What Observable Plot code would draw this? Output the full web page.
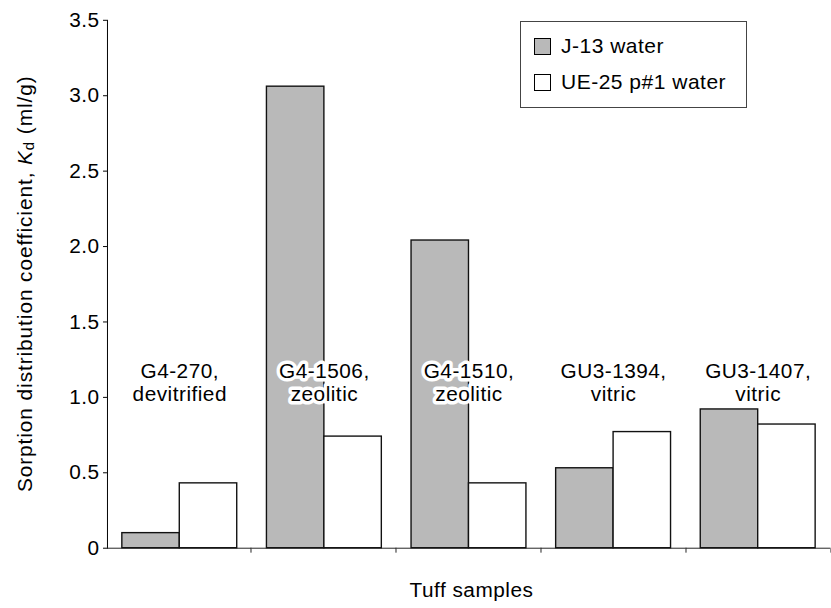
<!DOCTYPE html>
<html>
<head>
<meta charset="utf-8">
<script src="https://cdn.jsdelivr.net/npm/d3@7"></script>
<script src="https://cdn.jsdelivr.net/npm/@observablehq/plot@0.6"></script>
<style>
  html, body { margin: 0; padding: 0; background: #fff; overflow: hidden; }
  #wrap { position: relative; width: 831px; height: 608px; overflow: hidden; }
  .legend { position: absolute; left: 520px; top: 21px; width: 227px; height: 87px;
    border: 1px solid #444; background: #fff; font-family: "Liberation Sans", Arial, sans-serif;
    font-size: 21px; letter-spacing: 0.5px; color: #000; box-sizing: border-box; }
  .legend .item { position: absolute; left: 13px; display: flex; align-items: center; white-space: nowrap; }
  .legend .sw { width: 17px; height: 17px; border: 1.5px solid #000; margin-right: 10px; box-sizing: border-box; }
</style>
</head>
<body>
<div id="wrap"></div>
<script>
// ---- data ----
const samples = ["G4-270", "G4-1506", "G4-1510", "GU3-1394", "GU3-1407"];
const sampleTypes = ["devitrified", "zeolitic", "zeolitic", "vitric", "vitric"];
const series = ["J-13 water", "UE-25 p#1 water"];
const j13Values = [0.10, 3.06, 2.04, 0.53, 0.92];
const ue25Values = [0.43, 0.74, 0.43, 0.77, 0.82];
const yTicks = [0, 0.5, 1.0, 1.5, 2.0, 2.5, 3.0, 3.5];
const seriesColors = ["#b9b9b9", "#ffffff"];
const yLabelParts = ["Sorption distribution coefficient, ", "K", "d", " (ml/g)"];
const xLabel = "Tuff samples";

// ---- tables built from the arrays ----
const rows = [];
samples.forEach((s, i) => {
  rows.push({sample: s, series: series[0], value: j13Values[i]});
  rows.push({sample: s, series: series[1], value: ue25Values[i]});
});
const labels = samples.map((s, i) => ({sample: s, text: s + ",\n" + sampleTypes[i]}));
const labelLevel = 1.1;

const font = '"Liberation Sans", Arial, sans-serif';

const plot = Plot.plot({
  width: 839,
  height: 608,
  marginLeft: 107,
  marginRight: 0,
  marginTop: 20,
  marginBottom: 55,
  style: {fontFamily: font, fontSize: "21px", color: "#000", background: "#fff", overflow: "visible", letterSpacing: "0.5px"},
  fx: {domain: samples, padding: 0, axis: null, label: null},
  x: {domain: series, paddingInner: 0, paddingOuter: 0.24, axis: null, label: null},
  y: {domain: [0, 3.5], ticks: yTicks, tickFormat: d => d === 0 ? "0" : d.toFixed(1), tickSize: 4, tickPadding: 4, label: null, line: true},
  color: {domain: series, range: seriesColors},
  marks: [
    Plot.ruleY([0], {stroke: "#222", strokeWidth: 1}),
    Plot.barY(rows, {fx: "sample", x: "series", y: "value", fill: "series", stroke: "#111", strokeWidth: 1.4}),
    Plot.text(labels, {fx: "sample", y: () => labelLevel, text: "text", fill: "#000", stroke: "#fff", strokeWidth: 7, lineHeight: 1.1, fontSize: 21})
  ]
});

document.getElementById("wrap").appendChild(plot);

// ---- extra axis decorations drawn from the plot's scales ----
const svg = d3.select(plot.tagName.toLowerCase() === "svg" ? plot : plot.querySelector("svg"));
const fxd = plot.scale("fx");
const yd = plot.scale("y");
const fxBand = d3.scaleBand().domain(fxd.domain).range(fxd.range)
  .paddingInner(fxd.paddingInner || 0).paddingOuter(fxd.paddingOuter || 0);
const yLin = d3.scaleLinear().domain(yd.domain).range(yd.range);
const y0 = yLin(0);
const edges = samples.slice(1).map(s => fxBand(s)).concat([fxBand(samples[samples.length - 1]) + fxBand.bandwidth()]);
svg.append("g").attr("stroke", "#222").selectAll("line").data(edges).join("line")
  .attr("x1", d => d).attr("x2", d => d).attr("y1", y0).attr("y2", y0 + 5);

// y label
const ymid = (yLin(0) + yLin(3.5)) / 2;
const yl = svg.append("text")
  .attr("transform", `translate(24,${ymid}) rotate(-90)`)
  .attr("text-anchor", "middle").attr("dominant-baseline", "central")
  .attr("font-family", font).attr("font-size", 21).attr("letter-spacing", "0.95px").attr("fill", "#000");
yl.append("tspan").text(yLabelParts[0]);
yl.append("tspan").attr("font-style", "italic").text(yLabelParts[1]);
yl.append("tspan").attr("font-size", 15).attr("dy", 5).text(yLabelParts[2]);
yl.append("tspan").attr("dy", -5).text(yLabelParts[3]);

// x label
const xmid = (fxd.range[0] + fxd.range[1]) / 2 + 3;
svg.append("text").attr("x", xmid).attr("y", 603).attr("text-anchor", "middle")
  .attr("font-family", font).attr("font-size", 21).attr("letter-spacing", "0.5px").attr("fill", "#000").text(xLabel);

// ---- legend ----
const legend = d3.select("#wrap").append("div").attr("class", "legend");
const legendTops = [12, 48];
series.forEach((s, i) => {
  const it = legend.append("div").attr("class", "item").style("top", legendTops[i] + "px");
  it.append("div").attr("class", "sw").style("background", seriesColors[i]);
  it.append("span").text(s);
});
</script>
</body>
</html>
